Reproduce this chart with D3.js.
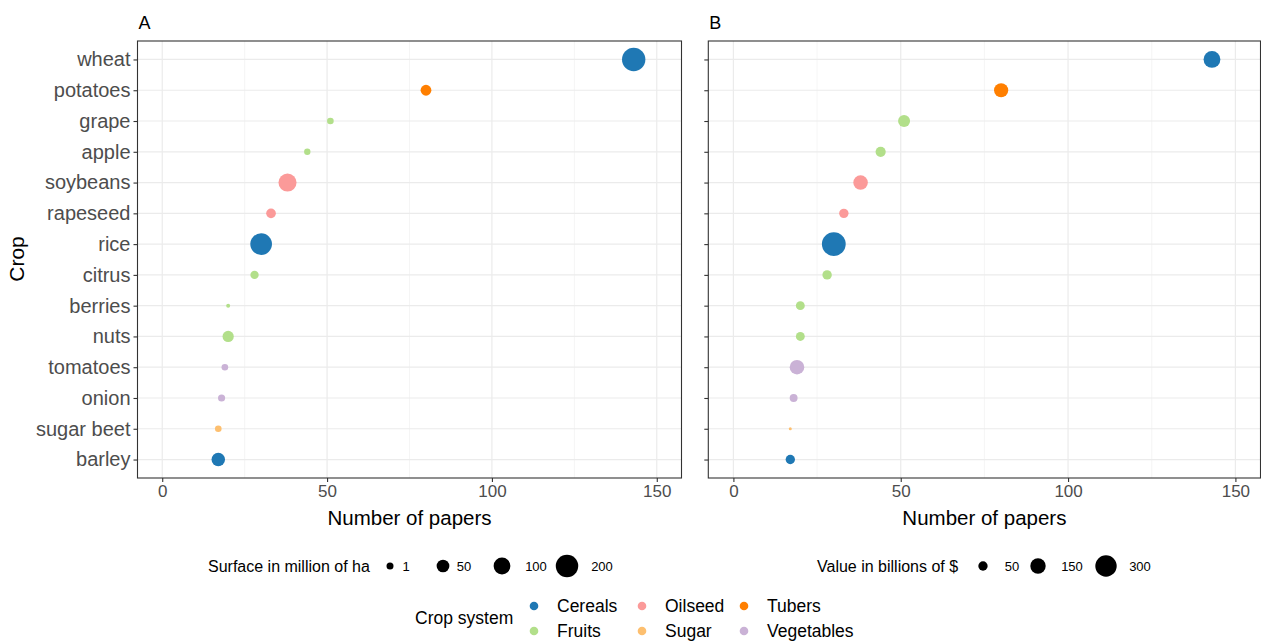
<!DOCTYPE html>
<html>
<head>
<meta charset="utf-8">
<script src="https://cdn.jsdelivr.net/npm/d3@7"></script>
<style>
  body { margin: 0; background: #fff; }
  text { font-family: "Liberation Sans", Arial, sans-serif; }
</style>
</head>
<body>
<div id="chart"></div>
<script>
// crops, top to bottom
const crops = ["wheat", "potatoes", "grape", "apple", "soybeans", "rapeseed", "rice",
    "citrus", "berries", "nuts", "tomatoes", "onion", "sugar beet", "barley"];
const cropSystem = ["Cereals", "Tubers", "Fruits", "Fruits", "Oilseed", "Oilseed", "Cereals",
    "Fruits", "Fruits", "Fruits", "Vegetables", "Vegetables", "Sugar", "Cereals"];
const papers = [143, 80, 51, 44, 38, 33, 30, 28, 20, 20, 19, 18, 17, 17];
const surface = [220, 32, 7, 6, 120, 24, 185, 15, 0.5, 36, 7, 9, 7, 58];   // million ha
const value = [180, 126, 87, 61, 133, 51, 375, 51, 45, 45, 133, 34, 3, 50];  // billions $

const systems = ["Cereals", "Fruits", "Oilseed", "Sugar", "Tubers", "Vegetables"];
const systemColors = ["#1f78b4", "#b2df8a", "#fb9a99", "#fdbf6f", "#ff7f00", "#cab2d6"];
const xTicks = [0, 50, 100, 150];
const surfaceBreaks = [1, 50, 100, 200];
const valueBreaks = [50, 150, 300];

const W = 1261, H = 642;
const svg = d3.select('#chart').append('svg')
    .attr('width', W).attr('height', H);

const color = d3.scaleOrdinal().domain(systems).range(systemColors);
const plotTop = 41, plotBottom = 478;

const y = d3.scalePoint()
    .domain(crops)
    .range([plotTop, plotBottom])
    .padding(0.6);

const rSurface = d3.scaleSqrt().domain([0, 220]).range([1.5, 11.7]);
const rValue = d3.scaleSqrt().domain([0, 300]).range([0.5, 10.7]);

function panel(x0, x1, label, sizes, rScale, showLabels) {
    const x = d3.scaleLinear().domain([-7.5, 157.5]).range([x0, x1]);
    const g = svg.append('g');

    // minor grid
    g.selectAll('.minor').data([25, 75, 125]).join('line')
        .attr('x1', d => x(d)).attr('x2', d => x(d))
        .attr('y1', plotTop).attr('y2', plotBottom)
        .attr('stroke', '#f2f2f2').attr('stroke-width', 0.8);

    // major grid
    g.selectAll('.vgrid').data(xTicks).join('line')
        .attr('x1', d => x(d)).attr('x2', d => x(d))
        .attr('y1', plotTop).attr('y2', plotBottom)
        .attr('stroke', '#ebebeb').attr('stroke-width', 1.2);
    g.selectAll('.hgrid').data(crops).join('line')
        .attr('x1', x0).attr('x2', x1)
        .attr('y1', d => y(d)).attr('y2', d => y(d))
        .attr('stroke', '#ebebeb').attr('stroke-width', 1.2);

    // points
    g.selectAll('circle').data(crops).join('circle')
        .attr('cx', (d, i) => x(papers[i]))
        .attr('cy', d => y(d))
        .attr('r', (d, i) => rScale(sizes[i]))
        .attr('fill', (d, i) => color(cropSystem[i]));

    g.append('rect')
        .attr('x', x0).attr('y', plotTop)
        .attr('width', x1 - x0).attr('height', plotBottom - plotTop)
        .attr('fill', 'none').attr('stroke', '#333').attr('stroke-width', 1.1);

    // x axis
    const xAxis = g.append('g')
        .attr('transform', `translate(0,${plotBottom})`)
        .call(d3.axisBottom(x).tickValues(xTicks).tickSize(4).tickPadding(3));
    xAxis.select('.domain').remove();
    xAxis.selectAll('line').attr('stroke', '#333').attr('stroke-width', 1.1);
    xAxis.selectAll('text')
        .attr('font-size', 17).attr('fill', '#4d4d4d')
        .attr('font-family', '"Liberation Sans", Arial, sans-serif');

    // y axis
    const yAxis = g.append('g')
        .attr('transform', `translate(${x0},0)`)
        .call(d3.axisLeft(y).tickSize(4).tickPadding(3)
            .tickFormat(showLabels ? d => d : () => ''));
    yAxis.select('.domain').remove();
    yAxis.selectAll('line').attr('stroke', '#333').attr('stroke-width', 1.1);
    yAxis.selectAll('text')
        .attr('font-size', 20).attr('fill', '#4d4d4d')
        .attr('font-family', '"Liberation Sans", Arial, sans-serif');

    g.append('text')
        .attr('x', (x0 + x1) / 2).attr('y', 525)
        .attr('text-anchor', 'middle')
        .attr('font-size', 20.5).attr('fill', '#000')
        .text('Number of papers');

    g.append('text')
        .attr('x', x0 + 1).attr('y', 29)
        .attr('font-size', 18).attr('fill', '#000')
        .text(label);

    return x;
}

panel(137.5, 681.5, 'A', surface, rSurface, true);
panel(708.3, 1260.5, 'B', value, rValue, false);

svg.append('text')
    .attr('transform', 'translate(24,259) rotate(-90)')
    .attr('text-anchor', 'middle')
    .attr('font-size', 21).attr('fill', '#000')
    .text('Crop');

// size legends
function sizeLegend(title, tx, ty, breaks, rScale, keyX, labelX) {
    const g = svg.append('g');
    g.append('text')
        .attr('x', tx).attr('y', ty).attr('dy', '0.35em')
        .attr('font-size', 16).attr('fill', '#000')
        .text(title);
    g.selectAll('circle').data(breaks).join('circle')
        .attr('cx', (d, i) => keyX[i]).attr('cy', ty)
        .attr('r', d => Math.max(rScale(d), 3.5))
        .attr('fill', '#000');
    g.selectAll('.lab').data(breaks).join('text')
        .attr('x', (d, i) => labelX[i]).attr('y', ty).attr('dy', '0.35em')
        .attr('text-anchor', 'middle')
        .attr('font-size', 13).attr('fill', '#000')
        .text(d => d);
}

sizeLegend('Surface in million of ha', 208, 566, surfaceBreaks, rSurface,
    [390, 443, 502, 567], [406, 464, 536, 602]);
sizeLegend('Value in billions of $', 817, 566, valueBreaks, rValue,
    [983, 1038, 1106], [1012, 1072, 1140]);

// crop system legend
const leg = svg.append('g');
leg.append('text')
    .attr('x', 415).attr('y', 618).attr('dy', '0.35em')
    .attr('font-size', 17.5).attr('fill', '#000')
    .text('Crop system');

const colX = [534, 642, 744];
const rowY = [606, 631];
leg.selectAll('circle').data(systems).join('circle')
    .attr('cx', (d, i) => colX[Math.floor(i / 2)])
    .attr('cy', (d, i) => rowY[i % 2])
    .attr('r', 4.3)
    .attr('fill', d => color(d));
leg.selectAll('.item').data(systems).join('text')
    .attr('x', (d, i) => colX[Math.floor(i / 2)] + 23)
    .attr('y', (d, i) => rowY[i % 2]).attr('dy', '0.35em')
    .attr('font-size', 17.5).attr('fill', '#000')
    .text(d => d);
</script>
</body>
</html>
